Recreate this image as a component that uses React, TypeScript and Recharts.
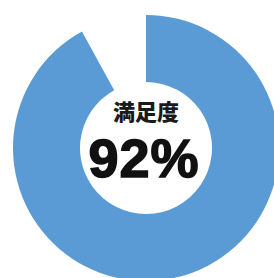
import { PieChart, Pie, Cell } from "recharts";

const segmentNames = ["満足", "その他"];
const segmentValues = [92, 8];
const segmentColors = ["#5b9bd5", "transparent"];
const centerTitle = "満足度";
const centerValue = "92%";

const data = segmentNames.map((name, i) => ({ name, value: segmentValues[i] }));

export default function App() {
  return (
    <div style={{ position: "absolute", left: 0, top: 0, width: 274, height: 278, background: "#fff" }}>
      <PieChart width={274} height={278}>
        <Pie
          data={data}
          dataKey="value"
          nameKey="name"
          cx={141}
          cy={143}
          innerRadius={66}
          outerRadius={133}
          startAngle={90}
          endAngle={-270}
          stroke="none"
          isAnimationActive={false}
        >
          {data.map((d, i) => (
            <Cell key={d.name} fill={segmentColors[i]} />
          ))}
        </Pie>
      </PieChart>
      <div
        style={{
          position: "absolute",
          left: 0,
          width: 292,
          top: 96,
          textAlign: "center",
          fontFamily: "'Noto Sans CJK JP', sans-serif",
          fontWeight: 900,
          fontSize: 22,
          lineHeight: "28px",
          color: "#1a1a1a",
        }}
      >
        {centerTitle}
      </div>
      <div
        style={{
          position: "absolute",
          left: 0,
          width: 288,
          top: 127,
          textAlign: "center",
          fontFamily: "'Liberation Sans', Arial, sans-serif",
          fontWeight: 700,
          fontSize: 54,
          lineHeight: "62px",
          letterSpacing: 1,
          color: "#111",
          WebkitTextStroke: "1.5px #111",
        }}
      >
        {centerValue}
      </div>
    </div>
  );
}
